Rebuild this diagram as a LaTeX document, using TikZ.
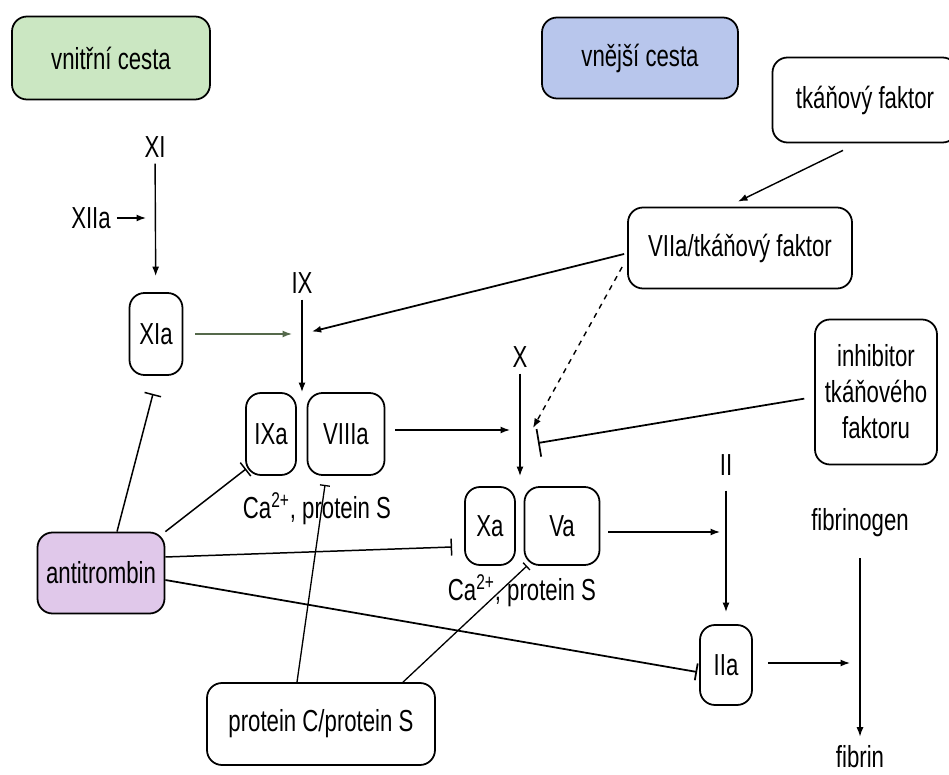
\documentclass[tikz,border=0pt]{standalone}
\usepackage{fontspec}
\setmainfont[FakeStretch=0.73]{Liberation Sans}
\usetikzlibrary{arrows.meta}
\definecolor{innergreen}{RGB}{203,231,194}
\definecolor{outerblue}{RGB}{184,198,236}
\definecolor{atpurple}{RGB}{224,200,234}
\definecolor{linegreen}{RGB}{85,105,75}
\tikzset{
	box/.style={draw, rounded corners=3mm, line width=1pt, align=center, inner sep=0pt},
	arr/.style={-{Latex[length=1.9mm,width=1.4mm]}, line width=0.8pt},
	inh/.style={-{Bar[width=3.4mm]}, line width=0.85pt},
	inhs/.style={-{Bar[width=2mm]}, line width=0.75pt},
}

\begin{document}
\begin{tikzpicture}[x=0.2mm, y=-0.2mm, font=\fontsize{17.3}{20.5}\selectfont]
				%%%%% START %%%%%
				\useasboundingbox (0,0) rectangle (949,775);
				
				\node[box, fill=innergreen, minimum width=39.6mm, minimum height=16.6mm] (inner) at (111,58) {vnitřní cesta};
				\node[box, fill=outerblue, minimum width=39.2mm, minimum height=16.2mm] (outer) at (640,58) {vnější cesta};
				\node[box, minimum width=37mm, minimum height=17mm] (tf) at (865,100) {tkáňový faktor};
				\node[box, minimum width=44.8mm, minimum height=16.2mm] (vtf) at (740,248) {VIIa/tkáňový faktor};
				\node[box, minimum width=24.4mm, minimum height=29mm] (tfpi) at (876,392) {inhibitor\\tkáňového\\faktoru};
				
				\node[box, minimum width=10.6mm, minimum height=16.4mm] (XIa) at (156,334) {XIa};
				\node[box, minimum width=10mm, minimum height=16.4mm] (IXa) at (271,434) {IXa};
				\node[box, minimum width=15.4mm, minimum height=16.4mm] (VIIIa) at (346,434) {VIIIa};
				\node[box, minimum width=10mm, minimum height=15.6mm] (Xa) at (490,526) {Xa};
				\node[box, minimum width=15mm, minimum height=15.6mm] (Va) at (562,526) {Va};
				\node[box, minimum width=10.4mm, minimum height=16mm] (IIa) at (726,665) {IIa};
				
				\node[box, fill=atpurple, minimum width=25.4mm, minimum height=16.2mm] (at) at (101,573) {antitrombin};
				\node[box, minimum width=45.6mm, minimum height=16.4mm] (pcs) at (321,724) {protein C/protein S};
				
				\node (XI) at (155,147) {XI};
				\node (XIIa) at (91,218) {XIIa};
				\node (IX) at (302,283) {IX};
				\node (X) at (520,357) {X};
				\node (II) at (726,465) {II};
				\node (fgen) at (860,523) {fibrinogen};
				\node[inner sep=1pt] (fib) at (860,757) {fibrin};
				\node (ca1) at (317,509) {Ca\textsuperscript{2+}, protein S};
				\node (ca2) at (522,591) {Ca\textsuperscript{2+}, protein S};
				
				\coordinate (ixj) at (302,334);
				\coordinate (xj) at (520,430);
				\coordinate (iij) at (726,532);
				\coordinate (fj) at (860,663);
				\coordinate (dashend) at (533,428);
				\coordinate (tfpibar) at (538,443);
				
				% activation
				\draw[arr, shorten >=3.2mm] (XI) -- (XIa);
				\draw[arr, shorten >=1.8mm] (XIIa) -- (XIIa -| XI);
				\draw[arr, draw=linegreen, shorten <=2.4mm, shorten >=2mm] (XIa) -- (ixj);
				\draw[arr] (IX) -- (IX |- IXa.north);
				\draw[arr, line width=1pt, shorten >=2mm] ([shift={(-3,6)}]vtf.west) -- (ixj);
				\draw[arr] ([shift={(-22,7)}]tf.south) -- ([shift={(-2,-5)}]vtf.north);
				\draw[arr, shorten <=2mm, shorten >=2mm] (VIIIa.east |- xj) -- (xj);
				\draw[arr, shorten >=2mm] (X) -- (X |- Xa.north);
				\draw[arr, dashed] ([shift={(-5,19)}]vtf.west) -- (dashend);
				\draw[arr, shorten <=1.6mm, shorten >=1.2mm] (Va.east |- iij) -- (iij);
				\draw[arr, shorten <=1.8mm, shorten >=2.4mm] (II) -- (IIa);
				\draw[arr, shorten <=3mm, shorten >=2mm] (IIa.east |- fj) -- (fj);
				\draw[arr, shorten <=3mm, shorten >=1.4mm] (fgen) -- (fib);
				
				% inhibition
				\draw[inh, -{Bar[width=5.6mm]}, line width=1pt, shorten <=2mm] ([shift={(0,5)}]tfpi.west) -- (tfpibar);
				\draw[inh] ([shift={(16,0)}]at.north) -- ([shift={(-3,18)}]XIa.south);
				\draw[inh] (at.north east) -- ([shift={(1,-7)}]IXa.south west);
				\draw[inh] ([shift={(0,-16)}]at.east) -- ([shift={(-12,21)}]Xa.west);
				\draw[inh, line width=1pt] ([shift={(0,7)}]at.east) -- ([shift={(-2,7)}]IIa.west);
				\draw[inhs] ([shift={(-24,0)}]pcs.north) -- ([shift={(-21,9)}]VIIIa.south);
				\draw[inhs] ([shift={(82,0)}]pcs.north) -- ([shift={(-35,0)}]Va.south);
				%%%%% END %%%%%
\end{tikzpicture}
\end{document}
